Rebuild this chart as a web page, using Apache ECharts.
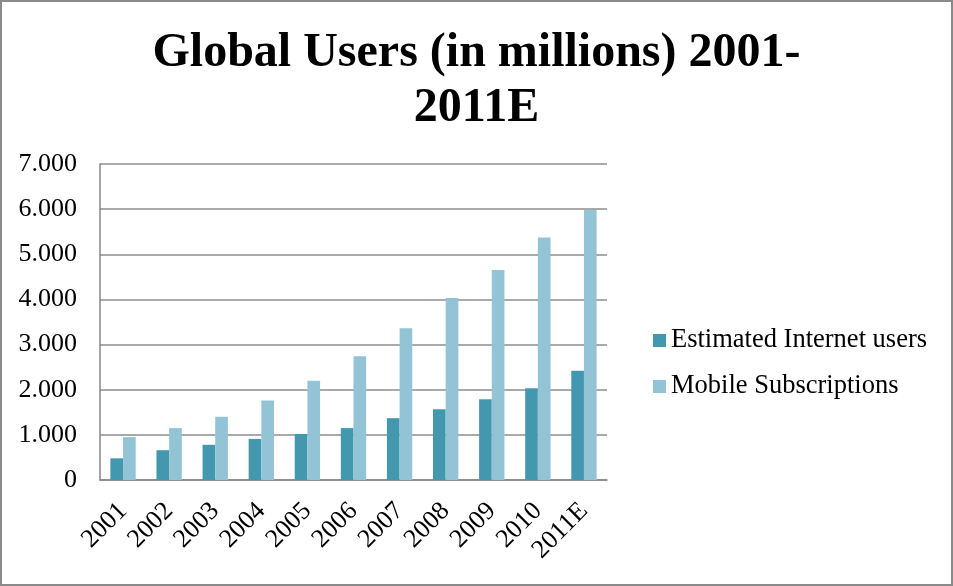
<!DOCTYPE html>
<html>
<head>
<meta charset="utf-8">
<script src="https://cdn.jsdelivr.net/npm/echarts@6/dist/echarts.min.js"></script>
<style>
  html, body { margin: 0; padding: 0; background: #fff; }
  #frame { width: 953px; height: 586px; box-sizing: border-box; border: 2px solid #8a8a8a; position: relative; }
  #chart { position: absolute; left: -2px; top: -2px; width: 953px; height: 586px; }
</style>
</head>
<body>
<div id="frame"><div id="chart"></div></div>
<script>
// Years on the category axis
const years = ['2001', '2002', '2003', '2004', '2005', '2006', '2007', '2008', '2009', '2010', '2011E'];

// Users in millions
const internetUsers = [480, 660, 780, 910, 1020, 1150, 1370, 1570, 1790, 2030, 2420];
const mobileSubscriptions = [950, 1150, 1400, 1760, 2200, 2740, 3360, 4030, 4650, 5370, 5980];

const seriesNames = ['Estimated Internet users', 'Mobile Subscriptions'];
// Title, wrapped over two centred lines
const titleLines = ['Global Users (in millions) 2001-', '2011E'];

const serif = '"Liberation Serif", "Times New Roman", serif';

// Thousands grouped with a dot, e.g. 7000 -> 7.000
function groupThousands(v) {
  return String(v).replace(/\B(?=(\d{3})+(?!\d))/g, '.');
}

const titleStyle = {
  fontFamily: serif,
  fontWeight: 'bold',
  fontSize: 48,
  lineHeight: 48,
  color: '#000'
};

const chart = echarts.init(document.getElementById('chart'), null, { renderer: 'canvas' });

chart.setOption({
  animation: false,
  backgroundColor: 'transparent',
  title: titleLines.map((line, i) => ({
    text: line,
    left: 'center',
    top: 30 + i * 55,
    padding: 0,
    textStyle: titleStyle
  })),
  legend: {
    orient: 'vertical',
    left: 648,
    top: 322,
    itemWidth: 13,
    itemHeight: 13,
    itemGap: 19,
    icon: 'rect',
    textStyle: { fontFamily: serif, fontSize: 26.5, color: '#000' },
    data: seriesNames
  },
  grid: { left: 100, right: 346, top: 164, bottom: 106, containLabel: false },
  xAxis: {
    type: 'category',
    data: years,
    axisLine: { lineStyle: { color: '#868686', width: 1.5 } },
    axisTick: { show: false },
    axisLabel: {
      rotate: 45,
      interval: 0,
      margin: 27,
      fontFamily: serif,
      fontSize: 26,
      color: '#000'
    }
  },
  yAxis: {
    type: 'value',
    min: 0,
    max: 7000,
    interval: 1000,
    axisLine: { show: true, lineStyle: { color: '#868686', width: 1.5 } },
    axisTick: { show: false },
    splitLine: { lineStyle: { color: '#8c8c8c', width: 1.5 } },
    axisLabel: {
      margin: 23,
      fontFamily: serif,
      fontSize: 26,
      color: '#000',
      formatter: groupThousands
    }
  },
  series: [
    {
      name: seriesNames[0],
      type: 'bar',
      data: internetUsers,
      barGap: '0%',
      barCategoryGap: '45%',
      itemStyle: { color: '#4398b0' }
    },
    {
      name: seriesNames[1],
      type: 'bar',
      data: mobileSubscriptions,
      barGap: '0%',
      barCategoryGap: '45%',
      itemStyle: { color: '#93c4d6' }
    }
  ]
});
</script>
</body>
</html>
